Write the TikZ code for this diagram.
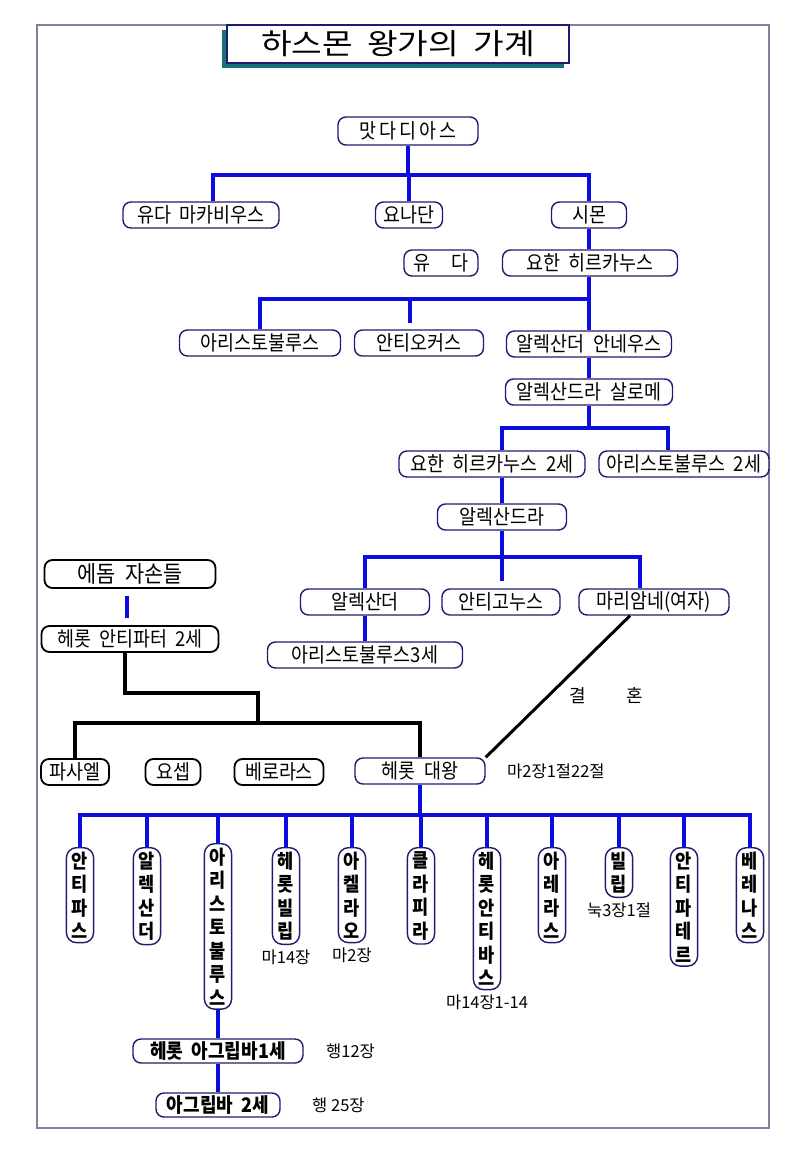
\documentclass[tikz,border=0pt]{standalone}
\usepackage{fontspec}
\setmainfont{Noto Sans CJK KR}[WordSpace=2, FakeStretch=0.9]
\newfontfamily\titlefont{Noto Sans CJK KR}[FakeStretch=1.15]
\newfontfamily\widefont{Noto Sans CJK KR}[LetterSpace=15, FakeStretch=0.9]
\newfontfamily\notefont{Noto Sans CJK KR}
\usetikzlibrary{positioning,shadows}
\definecolor{lineblue}{RGB}{12,12,225}
\definecolor{boxnavy}{RGB}{28,28,112}
\definecolor{shadowteal}{RGB}{24,112,122}
\definecolor{framegray}{RGB}{128,128,158}
\tikzset{
  famnode/.style={draw=boxnavy, line width=1.4pt, rounded corners=8pt, fill=white,
    minimum height=26pt, inner xsep=6pt, inner ysep=0pt, font=\fontsize{20.5}{22}\selectfont},
  edomnode/.style={famnode, draw=black, line width=1.8pt},
  sonnode/.style={draw=boxnavy, line width=1.4pt, rounded corners=10pt, fill=white,
    anchor=north, align=center, inner xsep=5.5pt, inner ysep=4pt,
    font=\bfseries\fontsize{19.5}{23.5}\selectfont},
  versenote/.style={font=\notefont\fontsize{16.5}{18}\selectfont},
  blueline/.style={lineblue, line width=3.6pt},
  blackline/.style={black, line width=3.6pt},
}
\begin{document}
\begin{tikzpicture}[x=1pt,y=-1pt]
\useasboundingbox (0,0) rectangle (800,1153);
\draw[framegray, line width=1.2pt] (37,25) rectangle (769,1128);
\node[draw=boxnavy, line width=1.6pt, fill=white, minimum width=342, minimum height=38,
  drop shadow={shadow xshift=-5pt, shadow yshift=-5pt, fill=shadowteal, opacity=1},
  font=\titlefont\fontsize{29}{31}\selectfont] (title) at (398,44)
  {하스몬\hspace{14pt}왕가의\hspace{14pt}가계};
% Hasmonean line
\node[famnode, minimum width=140, minimum height=28, font=\widefont\fontsize{20.5}{22}\selectfont] (mattathias) at (408,131) {맛다디아스};
\node[famnode, minimum width=156] (judas) at (201,215) {유다 마카비우스};
\node[famnode, minimum width=67] (jonathan) at (409,215) {요나단};
\node[famnode, minimum width=75] (simon) at (589,215) {시몬};
\node[famnode, minimum width=74] (judas2) at (441,263) {유\hspace{22pt}다};
\node[famnode, minimum width=175] (hyrcanus) at (590,263) {요한 히르카누스};
\node[famnode, minimum width=161] (aristobulus) at (260,343) {아리스토불루스};
\node[famnode, minimum width=129] (antiochus) at (419,343) {안티오커스};
\node[famnode, minimum width=165] (jannaeus) at (589,344) {알렉산더 안네우스};
\node[famnode, minimum width=167] (salome) at (589,392) {알렉산드라 살로메};
\node[famnode, minimum width=186] (hyrcanusii) at (492,464) {요한 히르카누스 2세};
\node[famnode, minimum width=170] (aristobulusii) at (684,464) {아리스토불루스 2세};
\node[famnode, minimum width=129] (alexandra) at (502,517) {알렉산드라};
\node[famnode, minimum width=129] (alexander) at (365,602) {알렉산더};
\node[famnode, minimum width=118] (antigonus) at (501,602) {안티고누스};
\node[famnode, minimum width=150] (mariamne) at (654,602) {마리암네(여자)};
\node[famnode, minimum width=195] (aristobulusiii) at (365,655) {아리스토불루스3세};
% Edomite line
\node[edomnode, minimum width=171, minimum height=28, font=\fontsize{23}{25}\selectfont] (edom) at (130,574) {에돔 자손들};
\node[edomnode, minimum width=177] (antipater) at (130,639) {헤롯 안티파터 2세};
\node[edomnode, minimum width=68] (phasael) at (75,772) {파사엘};
\node[edomnode, minimum width=55] (joseph) at (173,772) {요셉};
\node[edomnode, minimum width=89] (pheroras) at (279,772) {베로라스};
\node[famnode, minimum width=130] (herod) at (420,771) {헤롯 대왕};
\node[versenote, right=18pt of herod] (herodverse) {마2장1절22절};
\node[versenote, font=\notefont\fontsize{18}{20}\selectfont] (marriage) at (606,696) {결\hspace{40pt}혼};
% Herod's children
\node[sonnode] (antipas) at (80,847) {안\\티\\파\\스};
\node[sonnode] (alexandros) at (147,847) {알\\렉\\산\\더};
\node[sonnode] (aristobulusiv) at (218,843) {아\\리\\스\\토\\불\\루\\스};
\node[sonnode] (philip) at (286,847) {헤\\롯\\빌\\립};
\node[versenote, below=1pt of philip] (philipverse) {마14장};
\node[sonnode] (archelaus) at (352,847) {아\\켈\\라\\오};
\node[versenote, below=1pt of archelaus] (archelausverse) {마2장};
\node[sonnode] (glaphyra) at (421,847) {클\\라\\피\\라};
\node[sonnode] (antipasii) at (487,847) {헤\\롯\\안\\티\\바\\스};
\node[versenote, below=1pt of antipasii] (antipasverse) {마14장1-14};
\node[sonnode] (aretas) at (552,847) {아\\레\\라\\스};
\node[sonnode] (philipii) at (619,847) {빌\\립};
\node[versenote, below=1pt of philipii] (philipiiverse) {눅3장1절};
\node[sonnode] (antipaterii) at (684,847) {안\\티\\파\\테\\르};
\node[sonnode] (berenice) at (750,847) {베\\레\\나\\스};
\node[famnode, minimum width=170, minimum height=24, font=\bfseries\fontsize{20}{22}\selectfont] (agrippa) at (218,1051) {헤롯 아그립바1세};
\node[versenote, right=19pt of agrippa] (agrippaverse) {행12장};
\node[famnode, minimum width=124, minimum height=24, font=\bfseries\fontsize{20}{22}\selectfont] (agrippaii) at (218,1105) {아그립바 2세};
\node[versenote, right=28pt of agrippaii] (agrippaiiverse) {행 25장};
% blue family lines
\coordinate (bar1) at (408,175);
\draw[blueline] (mattathias.south) -- (bar1);
\draw[blueline] ([xshift=12pt]judas.north) |- (bar1) -| (simon.north);
\draw[blueline] (jonathan.north) |- (bar1);
\draw[blueline] (simon.south) -- (simon.south |- hyrcanus.north);
\coordinate (bar2) at (589,299);
\draw[blueline] (hyrcanus.south -| bar2) -- (bar2);
\draw[blueline] (aristobulus.north) |- (bar2);
\draw[blueline, shorten <=6pt] ([xshift=-9pt]antiochus.north) |- (bar2);
\draw[blueline] (jannaeus.north) -- (bar2);
\draw[blueline] (jannaeus.south) -- (salome.north);
\coordinate (bar3) at (589,428);
\draw[blueline] (salome.south) -- (bar3);
\draw[blueline] (hyrcanusii.north -| alexandra.north) |- (bar3) -| ([xshift=-16pt]aristobulusii.north);
\draw[blueline] (alexandra.north) -- (alexandra.north |- hyrcanusii.south);
\coordinate (bar4) at (502,557);
\draw[blueline] (alexandra.south) -- (bar4);
\draw[blueline] (alexander.north) |- (bar4) -| ([xshift=-14pt]mariamne.north);
\draw[blueline, shorten <=7pt] (antigonus.north -| bar4) -- (bar4);
\draw[blueline] (alexander.south) -- (aristobulusiii.north);
% Edomite lines
\draw[blueline, shorten <=7pt, shorten >=7pt] ([xshift=-3pt]edom.south) -- ([xshift=-3pt]antipater.north);
\coordinate (knee) at (258,693);
\coordinate (bar5) at (258,723);
\draw[blackline] ([xshift=-5pt]antipater.south) |- (knee) -- (bar5);
\draw[blackline] (phasael.north) |- (bar5) -| (herod.north);
\draw[black, line width=3pt] ([xshift=-24pt]mariamne.south) -- (herod.north east);
% Herod's sons
\coordinate (bar6) at (420,815);
\draw[blueline] (herod.south) -- (bar6);
\draw[blueline] (antipas.north) |- (bar6);
\draw[blueline] (alexandros.north) |- (bar6);
\draw[blueline] (aristobulusiv.north) |- (bar6);
\draw[blueline] (philip.north) |- (bar6);
\draw[blueline] (archelaus.north) |- (bar6);
\draw[blueline] (glaphyra.north) |- (bar6);
\draw[blueline] (antipasii.north) |- (bar6);
\draw[blueline] (aretas.north) |- (bar6);
\draw[blueline] (philipii.north) |- (bar6);
\draw[blueline] (antipaterii.north) |- (bar6);
\draw[blueline] (berenice.north) |- (bar6);
\draw[blueline] (aristobulusiv.south) -- (agrippa.north);
\draw[blueline] (agrippa.south) -- (agrippaii.north);
\end{tikzpicture}
\end{document}
